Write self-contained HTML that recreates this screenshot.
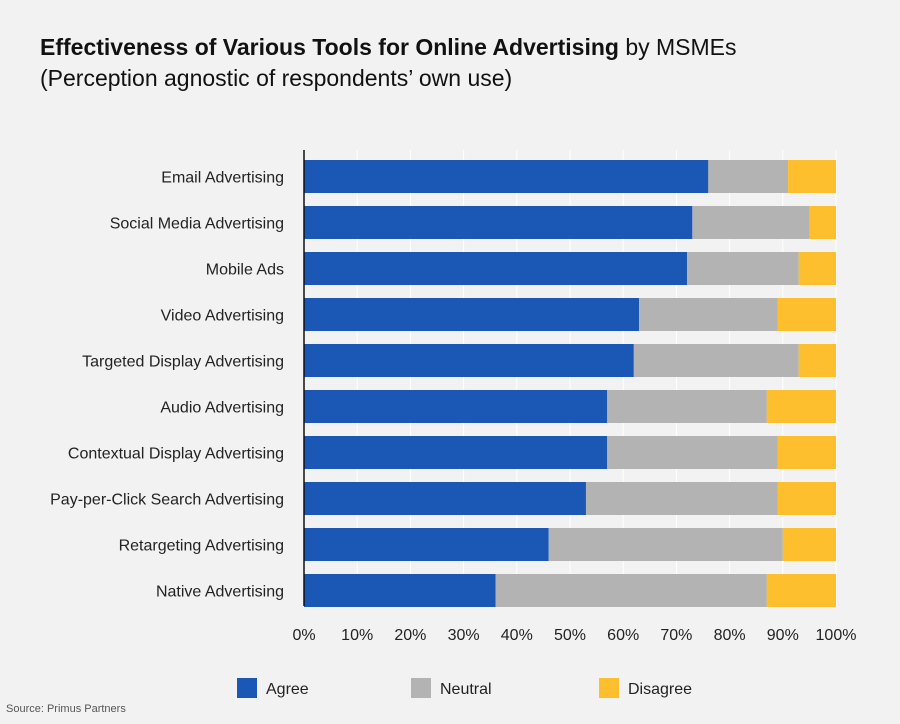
<!DOCTYPE html>
<html><head><meta charset="utf-8"><style>
body{margin:0;width:900px;height:719px;background:#f2f2f2;font-family:"Liberation Sans",sans-serif;overflow:hidden}
</style></head><body>
<svg width="900" height="719" id="c">
<text x="40" y="55" font-size="23" fill="#111"><tspan font-weight="bold">Effectiveness of Various Tools for Online Advertising</tspan> by MSMEs</text>
<text x="40" y="86" font-size="23" fill="#111">(Perception agnostic of respondents’ own use)</text>
<text x="6" y="712" font-size="11" fill="#555">Source: Primus Partners</text>
</svg>
<script>
const categories=["Email Advertising","Social Media Advertising","Mobile Ads","Video Advertising","Targeted Display Advertising","Audio Advertising","Contextual Display Advertising","Pay-per-Click Search Advertising","Retargeting Advertising","Native Advertising"];
const agree=[76,73,72,63,62,57,57,53,46,36];
const neutral=[15,22,21,26,31,30,32,36,44,51];
const disagree=[9,5,7,11,7,13,11,11,10,13];
const ticks=[0,10,20,30,40,50,60,70,80,90,100];
const seriesNames=["Agree","Neutral","Disagree"];
const colors=["#1b58b5","#b3b3b3","#fdbf2d"];
const svg=document.getElementById('c');const NS="http://www.w3.org/2000/svg";
const x0=304,x1=836,y0=160,step=46,bh=33;
const xs=v=>x0+(x1-x0)*v/100;
function mk(t,a){const e=document.createElementNS(NS,t);for(const k in a)e.setAttribute(k,a[k]);svg.appendChild(e);return e;}
ticks.forEach(t=>{
 const g=mk('line',{x1:xs(t),x2:xs(t),y1:150,y2:606,stroke:'#ffffff','stroke-width':1});
 
 
 const l=mk('text',{x:xs(t),y:640,'font-size':16,fill:'#222','text-anchor':'middle'});l.textContent=t+'%';
 
 
});
const series=[agree,neutral,disagree];
categories.forEach((c,i)=>{
 const y=y0+i*step;
 const l=mk('text',{x:284,y:y+bh/2+6,'font-size':16,fill:'#222','text-anchor':'end'});l.textContent=c;
 
 
 let acc=0;
 series.forEach((s,k)=>{
  const r=mk('rect',{x:xs(acc),y:y,width:xs(acc+s[i])-xs(acc),height:bh,fill:colors[k]});
  
  
  acc+=s[i];
 });
});
const ax=mk('line',{x1:304,x2:304,y1:150,y2:606,stroke:'#111','stroke-width':1.5});


const lx=[237,411,599];
seriesNames.forEach((n,k)=>{
 const r=mk('rect',{x:lx[k],y:678,width:20,height:20,fill:colors[k]});
 
 
 const t=mk('text',{x:lx[k]+29,y:694,'font-size':16,fill:'#222'});t.textContent=n;
 
 
});
</script>
</body></html>
